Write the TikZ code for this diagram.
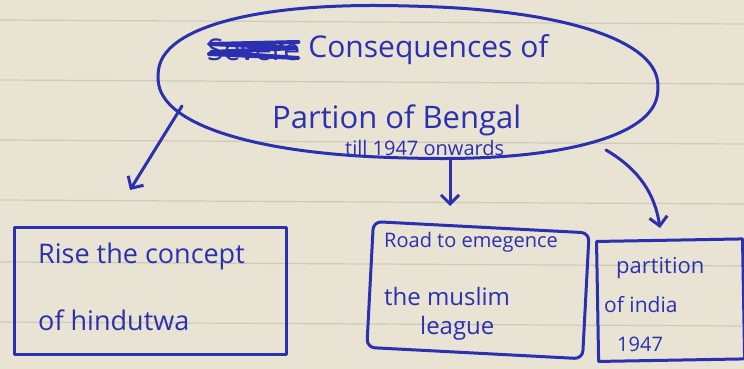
\documentclass[tikz,border=0pt]{standalone}
\usepackage{fontspec}
\setmainfont{Open Sans}
\usetikzlibrary{arrows.meta,shapes.geometric}
\definecolor{paper}{HTML}{E8E3D3}
\definecolor{rule}{HTML}{CFC9B8}
\definecolor{ink}{HTML}{2B30B0}
\tikzset{
  inkline/.style={draw=ink, line width=3pt, line cap=round, line join=round},
  arr/.style={inkline, -{Straight Barb[length=9pt,width=18pt,line width=3pt]}},
  handtext/.style={text=ink, inner sep=0pt, anchor=west},
  boxnode/.style={inkline, rectangle, anchor=north west, inner sep=0pt}
}
\begin{document}
\begin{tikzpicture}[x=1pt,y=-1pt]
\useasboundingbox (0,0) rectangle (744,369);
\fill[paper] (0,0) rectangle (744,369);
\foreach \yy in {20,80,140,200,262,322} \draw[rule, line width=1.2pt] (0,\yy) -- (744,\yy+4);
% ellipse (hand-drawn outline)
\node[ellipse, minimum width=500pt, minimum height=150pt] (main) at (408,82) {};
\draw[inkline, rotate around={-1.5:(main.center)}] plot[domain=0.5:360.5, samples=121, smooth cycle]
  ({408 + 250*sign(cos(\x))*pow(abs(cos(\x))+0.00001,0.88)},
   {82 + 76*sign(sin(\x))*pow(abs(sin(\x))+0.00001,0.88)});
\node[handtext, font=\fontsize{30}{32}\selectfont] (t0) at (207,50) {Severe};
\draw[ink, line width=4pt, line cap=round, line join=round]
  ([xshift=2pt,yshift=-4pt]t0.west) -- ([xshift=-2pt,yshift=-8pt]t0.east)
  -- ([xshift=4pt,yshift=-2pt]t0.west) -- ([xshift=-4pt,yshift=2pt]t0.east)
  -- ([xshift=2pt,yshift=6pt]t0.west) -- ([xshift=-2pt,yshift=8pt]t0.east);
\node[handtext, font=\fontsize{30}{32}\selectfont] (t1) at (t0.east) {\ Consequences of};
\node[handtext, font=\fontsize{31}{32}\selectfont] (t2) at (272,120) {Partion of Bengal};
\node[handtext, font=\fontsize{20}{22}\selectfont] (t3) at (345,148) {till 1947 onwards};
% boxes
\node[boxnode, minimum width=272pt, minimum height=127pt] (b1) at (13,226) {};
\node[handtext, font=\fontsize{27}{30}\selectfont] (b1a) at (38,256) {Rise the concept};
\node[handtext, font=\fontsize{27}{30}\selectfont] (b1b) at (38,320) {of hindutwa};
\node[boxnode, minimum width=216pt, minimum height=126pt, rotate=-3, rounded corners=8pt] (b2) at (372,220) {};
\node[handtext, font=\fontsize{20}{22}\selectfont] (b2a) at (384,242) {Road to emegence};
\node[handtext, font=\fontsize{24}{26}\selectfont] (b2b) at (384,296) {the muslim};
\node[handtext, font=\fontsize{24}{26}\selectfont] (b2c) at (420,328) {league};
\node[boxnode, minimum width=146pt, minimum height=120pt, rotate=1] (b3) at (595,240) {};
\node[handtext, font=\fontsize{22}{24}\selectfont] (b3a) at (616,268) {partition};
\node[handtext, font=\fontsize{21}{22}\selectfont] (b3b) at (604,305) {of india};
\node[handtext, font=\fontsize{20}{22}\selectfont] (b3c) at (617,344) {1947};
% arrows
\coordinate (a1) at (182,106);
\coordinate (a2) at (450,160);
\coordinate (a3) at (606,150);
\draw[arr] (a1) -- (130,190);
\draw[arr] (a2) -- (450,206);
\draw[arr] (a3) .. controls (640,170) and (655,195) .. (660,228);
\end{tikzpicture}
\end{document}
